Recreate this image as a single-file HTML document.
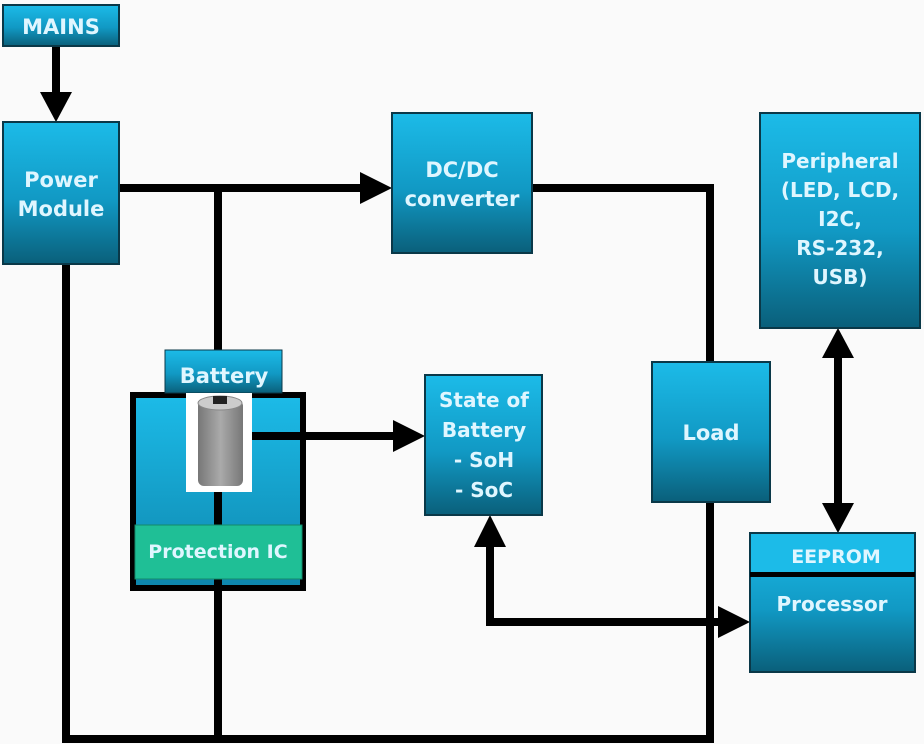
<!DOCTYPE html>
<html><head><style>
body{margin:0;background:#fafafa;}
svg{display:block;}
text{font-family:"DejaVu Sans","Liberation Sans",sans-serif;font-weight:bold;fill:#dff6ff;text-anchor:middle;}
</style></head><body>
<svg width="924" height="744" viewBox="0 0 924 744">
<defs>
<linearGradient id="g" x1="0" y1="0" x2="0" y2="1">
<stop offset="0" stop-color="#1cbbe8"/><stop offset="0.55" stop-color="#1199c4"/><stop offset="1" stop-color="#0a5f7a"/></linearGradient>
<linearGradient id="gb" x1="0" y1="0" x2="0" y2="1">
<stop offset="0" stop-color="#1cbbe8"/><stop offset="1" stop-color="#0e86ad"/></linearGradient>
<linearGradient id="cell" x1="0" y1="0" x2="1" y2="0">
<stop offset="0" stop-color="#777"/><stop offset="0.5" stop-color="#aaa"/><stop offset="1" stop-color="#777"/></linearGradient>
</defs>
<g stroke="#000" stroke-width="8" fill="none">
<line x1="56" y1="46" x2="56" y2="95"/>
<line x1="110" y1="188" x2="365" y2="188"/>
<line x1="218" y1="188" x2="218" y2="742"/>
<line x1="66" y1="264" x2="66" y2="742"/>
<line x1="62" y1="739" x2="714" y2="739"/>
<line x1="532" y1="188" x2="714" y2="188"/>
<line x1="710" y1="184" x2="710" y2="742"/>
<line x1="838" y1="355" x2="838" y2="505"/>
<line x1="252" y1="436" x2="395" y2="436"/>
<line x1="490" y1="545" x2="490" y2="626"/>
<line x1="486" y1="622" x2="722" y2="622"/>
</g>
<g fill="#000">
<polygon points="40,92 72,92 56,122"/>
<polygon points="360,172 360,204 392,188"/>
<polygon points="822,358 854,358 838,328"/>
<polygon points="822,503 854,503 838,533"/>
<polygon points="393,420 393,452 425,436"/>
<polygon points="474,547 506,547 490,515"/>
<polygon points="718,606 718,638 750,622"/>
</g>
<rect x="3" y="5" width="116" height="41" fill="url(#g)" stroke="#0a3848" stroke-width="2"/>
<text x="61" y="34" font-size="21">MAINS</text>
<rect x="3" y="122" width="116" height="142" fill="url(#g)" stroke="#0a3848" stroke-width="2"/>
<text x="61" y="187" font-size="21">Power</text>
<text x="61" y="216" font-size="21">Module</text>
<rect x="392" y="113" width="140" height="140" fill="url(#g)" stroke="#0a3848" stroke-width="2"/>
<text x="462" y="177" font-size="21" font-weight="normal">DC/DC</text>
<text x="462" y="206" font-size="21" font-weight="normal">converter</text>
<rect x="760" y="113" width="160" height="215" fill="url(#g)" stroke="#0a3848" stroke-width="2"/>
<text x="840" y="168" font-size="20">Peripheral</text>
<text x="840" y="197" font-size="20">(LED, LCD,</text>
<text x="840" y="226" font-size="20">I2C,</text>
<text x="840" y="255" font-size="20">RS-232,</text>
<text x="840" y="284" font-size="20">USB)</text>
<rect x="652" y="362" width="118" height="140" fill="url(#g)" stroke="#0a3848" stroke-width="2"/>
<text x="711" y="440" font-size="21">Load</text>
<rect x="425" y="375" width="117" height="140" fill="url(#g)" stroke="#0a3848" stroke-width="2"/>
<text x="484" y="407" font-size="20">State of</text>
<text x="484" y="437" font-size="20">Battery</text>
<text x="484" y="467" font-size="20">- SoH</text>
<text x="484" y="497" font-size="20">- SoC</text>
<rect x="750" y="533" width="165" height="139" fill="url(#g)" stroke="#0a3848" stroke-width="2"/>
<rect x="751" y="534" width="163" height="38" fill="#1cbbe8"/>
<rect x="750" y="572" width="165" height="5" fill="#000"/>
<text x="836" y="563" font-size="19" font-weight="normal">EEPROM</text>
<text x="832" y="611" font-size="20">Processor</text>
<rect x="133" y="395" width="170" height="193" fill="url(#gb)" stroke="#000" stroke-width="6"/>
<line x1="218" y1="395" x2="218" y2="590" stroke="#000" stroke-width="8"/>
<line x1="245" y1="436" x2="305" y2="436" stroke="#000" stroke-width="8"/>
<rect x="165" y="350" width="117" height="43" fill="url(#g)" stroke="#0a3848" stroke-width="1"/>
<text x="224" y="383" font-size="21">Battery</text>
<rect x="186" y="393" width="66" height="99" fill="#fff"/>
<rect x="198" y="400" width="45" height="86" rx="6" fill="url(#cell)"/>
<ellipse cx="220" cy="403" rx="22" ry="7" fill="#ccc" stroke="#888"/>
<rect x="213" y="396" width="14" height="8" fill="#222"/>
<rect x="135" y="525" width="167" height="54" fill="#1fbf96" stroke="#138a6a"/>
<text x="218" y="558" font-size="19" font-weight="normal">Protection IC</text>
</svg>
</body></html>
